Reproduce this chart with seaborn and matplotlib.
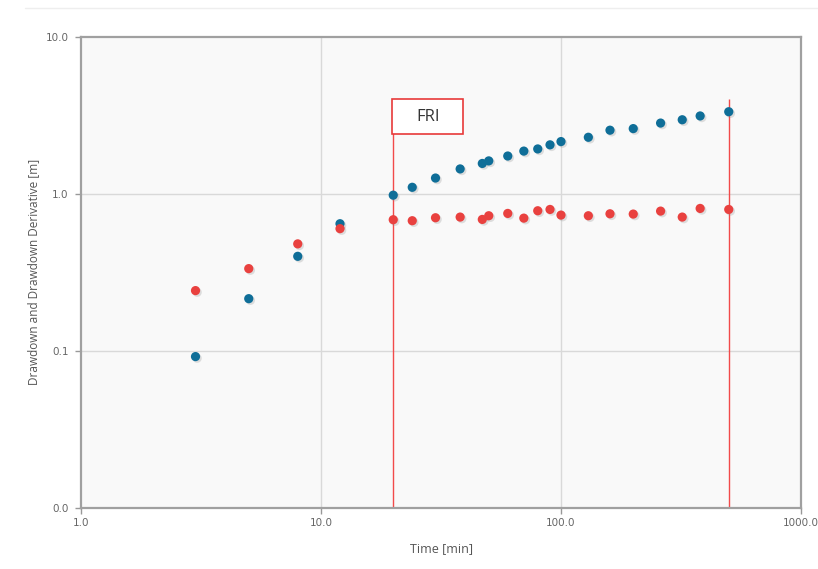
import numpy as np
import pandas as pd
import matplotlib
matplotlib.use("Agg")
import matplotlib.pyplot as plt
import matplotlib.patheffects as pe
from matplotlib.lines import Line2D
from matplotlib.patches import Rectangle
import seaborn as sns

# ---- data ----
time_min = [3, 5, 8, 12, 20, 24, 30, 38, 47, 50, 60, 70, 80, 90, 100,
            130, 160, 200, 260, 320, 380, 500]
drawdown = [0.092, 0.215, 0.40, 0.645, 0.98, 1.10, 1.26, 1.44, 1.56, 1.62,
            1.74, 1.87, 1.93, 2.05, 2.15, 2.29, 2.54, 2.60, 2.82, 2.96, 3.13, 3.33]
derivative = [0.242, 0.334, 0.48, 0.60, 0.684, 0.674, 0.704, 0.711, 0.687, 0.725,
              0.75, 0.70, 0.78, 0.795, 0.732, 0.725, 0.746, 0.743, 0.776, 0.711,
              0.807, 0.795]
fri_start, fri_end = 20, 500
fri_top = 4.0
fri_label = "FRI"
x_ticks = [1, 10, 100, 1000]
x_tick_labels = ["1.0", "10.0", "100.0", "1000.0"]
y_ticks = [0.01, 0.1, 1, 10]
y_tick_labels = ["0.0", "0.1", "1.0", "10.0"]

df = pd.DataFrame({
    "time": time_min * 2,
    "value": drawdown + derivative,
    "series": ["Drawdown"] * len(time_min) + ["Derivative"] * len(time_min),
})

sns.set_style("white")
plt.rcParams["font.family"] = ["DejaVu Sans"]

fig = plt.figure(figsize=(8.18, 5.69), dpi=100)
fig.patch.set_facecolor("white")
ax = fig.add_axes([81 / 818, 1 - 508 / 569, 720 / 818, (508 - 36.7) / 569])
ax.set_facecolor("#f9f9f9")

ax.set_xscale("log")
ax.set_yscale("log")
ax.set_xlim(1, 1000)
ax.set_ylim(0.01, 10)

for xv in x_ticks[1:-1]:
    ax.axvline(xv, color="#d9d9d9", lw=1, zorder=0)
for yv in y_ticks[1:-1]:
    ax.axhline(yv, color="#d9d9d9", lw=1, zorder=0)

# FRI lines and box
ax.vlines([fri_start, fri_end], 0.01, fri_top, color="#f24a4a", lw=1, zorder=1)
box_right = 39
ax.add_patch(Rectangle((fri_start * 0.99, 2.4), box_right - fri_start * 0.99, fri_top - 2.4,
                       facecolor="white", edgecolor="#e83a3a", lw=1.2, zorder=2))
ax.text(np.sqrt(fri_start * box_right), np.sqrt(2.4 * fri_top), fri_label,
        ha="center", va="center", fontsize=12, color="#333333",
        family=["Open Sans", "DejaVu Sans"], zorder=3)

sns.scatterplot(data=df, x="time", y="value", hue="series",
                palette={"Drawdown": "#0f6e98", "Derivative": "#e9413f"},
                s=44, edgecolor="none", legend=False, ax=ax, zorder=4)
for coll in ax.collections:
    if coll.get_offsets().shape[0] == len(df):
        coll.set_path_effects([pe.SimplePatchShadow(offset=(1.2, -1.2), alpha=0.25,
                                                    shadow_rgbFace="#888888"),
                               pe.Normal()])

ax.xaxis.set_major_locator(matplotlib.ticker.FixedLocator(x_ticks))
ax.yaxis.set_major_locator(matplotlib.ticker.FixedLocator(y_ticks))
ax.xaxis.set_minor_locator(matplotlib.ticker.NullLocator())
ax.yaxis.set_minor_locator(matplotlib.ticker.NullLocator())
ax.set_xticklabels(x_tick_labels)
ax.set_yticklabels(y_tick_labels)
ax.tick_params(axis="both", which="major", length=4, width=1, color="#999999",
               labelsize=7.5, labelcolor="#666666", direction="out", pad=5,
               bottom=True, left=True)
ax.tick_params(axis="x", pad=3)

for s in ax.spines.values():
    s.set_color("#a0a0a0")
    s.set_linewidth(1.6)

ax.set_xlabel("Time [min]", fontsize=9, color="#555555", labelpad=10,
              family=["Open Sans", "DejaVu Sans"])
ax.set_ylabel("Drawdown and Drawdown Derivative [m]", fontsize=8.5, color="#555555",
              labelpad=4, family=["Open Sans", "DejaVu Sans"])

fig.add_artist(Line2D([25 / 818, 1.0], [1 - 8 / 569, 1 - 8 / 569],
                      color="#eeeeee", lw=1))

fig.savefig("out.png", dpi=100)
